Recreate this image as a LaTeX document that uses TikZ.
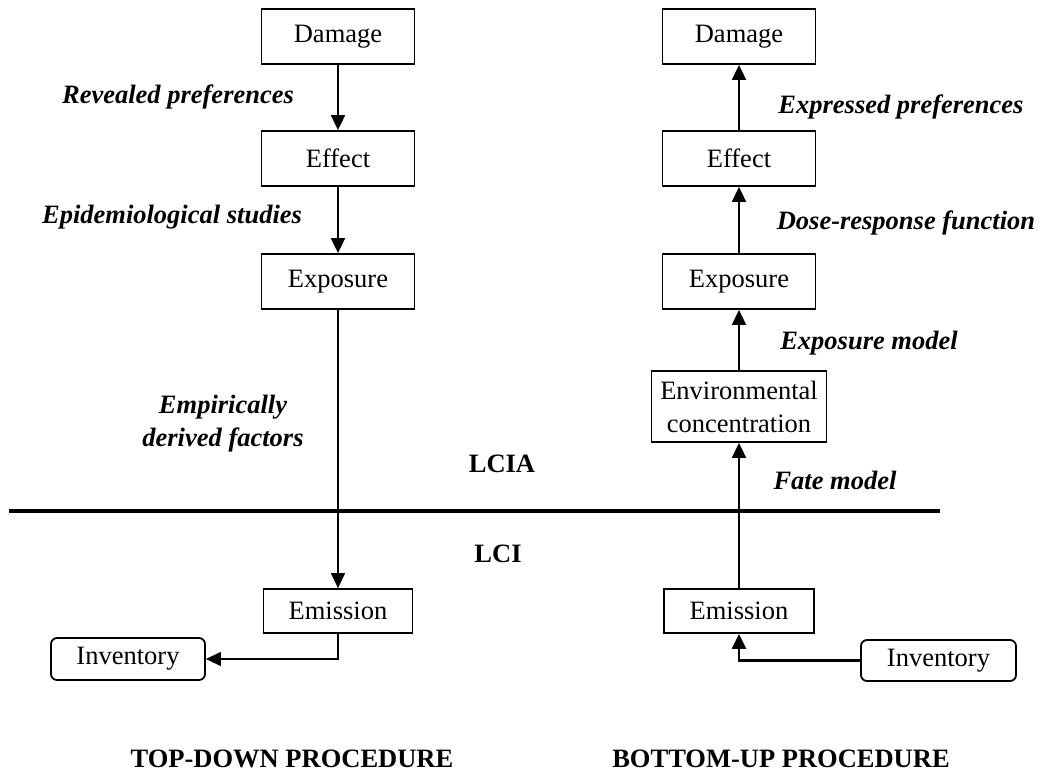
\documentclass[tikz,border=0pt]{standalone}
\usepackage{fontspec}
\setmainfont{Liberation Serif}
\usetikzlibrary{arrows.meta}
\begin{document}
\begin{tikzpicture}[x=1pt,y=-1pt,
  every node/.style={font=\fontsize{26.5}{33}\selectfont},
  box/.style={draw,line width=1.8pt,inner sep=0pt,minimum height=55pt,minimum width=153pt},
  ebox/.style={draw,line width=1.8pt,inner sep=0pt,minimum height=44pt,minimum width=150pt},
  ibox/.style={draw,line width=1.8pt,rounded corners=6pt,inner sep=0pt,minimum height=42pt,minimum width=154pt},
  lbl/.style={font=\fontsize{26.5}{33}\selectfont\bfseries\itshape,align=center},
  ttl/.style={font=\fontsize{26.5}{33}\selectfont\bfseries},
  arr/.style={line width=1.8pt,-{Triangle[length=15pt,width=14pt]}},
  thinarr/.style={line width=1.3pt,-{Triangle[length=15pt,width=14pt]}}]
\useasboundingbox (0,0) rectangle (1045,774);
% left column
\node[box] (ld) at (338,36.5) {Damage};
\node[box] (le) at (338,158.5) {Effect};
\node[box] (lx) at (338,281.5) {Exposure};
\node[ebox,minimum width=149pt] (lm) at (338,611) {Emission};
\node[ibox] (li) at (128,659) {Inventory};
% right column
\node[box] (rd) at (739,36.5) {Damage};
\node[box] (re) at (739,158.5) {Effect};
\node[box] (rx) at (739,281.5) {Exposure};
\node[draw,line width=1.8pt,inner sep=0pt,minimum width=175pt,minimum height=71pt,align=center] (rc) at (739,406.5) {Environmental\\concentration};
\node[ebox] (rm) at (739,611) {Emission};
\node[ibox,minimum width=155pt,minimum height=41pt] (ri) at (938.5,660.5) {Inventory};
% divider
\coordinate (hl) at (9,511);
\coordinate (hr) at (940,511);
\draw[line width=3.5pt] (hl) -- (hr);
% connectors left
\draw[arr] (ld) -- (le);
\draw[arr] (le) -- (lx);
\draw[thinarr] (lx) -- (lm);
\draw[thinarr] (lm.south) |- (li.east);
% connectors right
\draw[arr] (re) -- (rd);
\draw[arr] (rx) -- (re);
\draw[arr] (rc) -- (rx);
\draw[arr] (rm) -- (rc);
\draw[line width=2.3pt,-{Triangle[length=15pt,width=14pt]}] (ri.west) -| (rm.south);
% labels
\node[lbl] (l1) at (178,97) {Revealed preferences};
\node[lbl] (l2) at (172,217) {Epidemiological studies};
\node[lbl] (l3) at (223,424) {Empirically\\derived factors};
\node[lbl] (r1) at (901,107) {Expressed preferences};
\node[lbl] (r2) at (906,223) {Dose-response function};
\node[lbl] (r3) at (869,343) {Exposure model};
\node[lbl] (r4) at (835,480) {Fate model};
\node[ttl] (lcia) at (502,464) {LCIA};
\node[ttl] (lci) at (498,554) {LCI};
\node[ttl] (t1) at (292,759) {TOP-DOWN PROCEDURE};
\node[ttl] (t2) at (781,759) {BOTTOM-UP PROCEDURE};
\end{tikzpicture}
\end{document}
